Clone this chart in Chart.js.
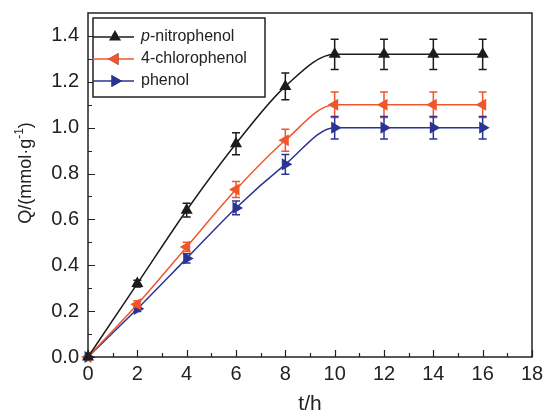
<!DOCTYPE html>
<html>
<head>
<meta charset="utf-8">
<script src="https://cdn.jsdelivr.net/npm/chart.js@4/dist/chart.umd.min.js"></script>
<style>
  html, body { margin: 0; padding: 0; background: #fff; }
  #wrap { width: 544px; height: 414px; }
</style>
</head>
<body>
<div id="wrap"><canvas id="c" width="544" height="414"></canvas></div>
<script>
const times = [0, 2, 4, 6, 8, 10, 12, 14, 16];
const nitro = [0, 0.32, 0.64, 0.93, 1.18, 1.32, 1.32, 1.32, 1.32];
const nitroErr = [0, 0.015, 0.03, 0.048, 0.058, 0.066, 0.066, 0.066, 0.066];
const chloro = [0, 0.23, 0.48, 0.73, 0.945, 1.10, 1.10, 1.10, 1.10];
const chloroErr = [0, 0.015, 0.02, 0.035, 0.048, 0.056, 0.056, 0.056, 0.056];
const phenol = [0, 0.21, 0.43, 0.65, 0.84, 1.00, 1.00, 1.00, 1.00];
const phenolErr = [0, 0.012, 0.02, 0.03, 0.043, 0.049, 0.049, 0.049, 0.049];
const seriesNames = ["p-nitrophenol", "4-chlorophenol", "phenol"];
const yTitle = "Q/(mmol·g-1)";
const xTitle = "t/h";

const FONT = "'Liberation Sans', Arial, sans-serif";
const colors = ['#1c1c1c', '#f0562a', '#2a3593'];
const rotations = [0, -90, 90];

function pts(vals, errs) {
  return times.map((t, i) => ({ x: t, y: vals[i], err: errs[i] }));
}

function mkSet(label, vals, errs, i) {
  return {
    label: label,
    data: pts(vals, errs),
    borderColor: colors[i],
    backgroundColor: colors[i],
    borderWidth: 1.5,
    pointStyle: 'triangle',
    pointRotation: rotations[i],
    pointRadius: 7,
    pointBorderWidth: 0,
    cubicInterpolationMode: 'monotone',
    clip: false
  };
}

// error bars, frame, inward ticks, legend, axis titles
const extras = {
  id: 'extras',
  beforeDatasetsDraw(chart) {
    const ctx = chart.ctx, xs = chart.scales.x, ys = chart.scales.y;
    chart.data.datasets.forEach((ds, i) => {
      ctx.save();
      ctx.strokeStyle = colors[i];
      ctx.lineWidth = 1.5;
      ds.data.forEach(p => {
        if (!p.err) return;
        const px = xs.getPixelForValue(p.x);
        const y1 = ys.getPixelForValue(p.y + p.err);
        const y2 = ys.getPixelForValue(p.y - p.err);
        ctx.beginPath();
        ctx.moveTo(px, y1); ctx.lineTo(px, y2);
        ctx.moveTo(px - 4, y1); ctx.lineTo(px + 4, y1);
        ctx.moveTo(px - 4, y2); ctx.lineTo(px + 4, y2);
        ctx.stroke();
      });
      ctx.restore();
    });
  },
  afterDraw(chart) {
    const ctx = chart.ctx, a = chart.chartArea;
    const xs = chart.scales.x, ys = chart.scales.y;
    ctx.save();
    ctx.strokeStyle = '#222';
    ctx.lineWidth = 1.5;
    ctx.strokeRect(a.left, a.top, a.right - a.left, a.bottom - a.top);

    ctx.lineWidth = 1.2;
    ctx.beginPath();
    xs.ticks.forEach(t => {
      const px = Math.round(xs.getPixelForValue(t.value)) + 0.5;
      const len = (Math.round(t.value) % 2 === 0) ? 7 : 4;
      ctx.moveTo(px, a.bottom); ctx.lineTo(px, a.bottom - len);
    });
    ys.ticks.forEach(t => {
      if (t.value > 1.45) return;
      const py = Math.round(ys.getPixelForValue(t.value)) + 0.5;
      const len = (Math.round(t.value * 10) % 2 === 0) ? 7 : 4;
      ctx.moveTo(a.left, py); ctx.lineTo(a.left + len, py);
    });
    ctx.stroke();

    // legend
    const lx = 93, ly = 18, lw = 172, lh = 79;
    ctx.fillStyle = '#fff';
    ctx.fillRect(lx, ly, lw, lh);
    ctx.strokeStyle = '#222';
    ctx.lineWidth = 1.5;
    ctx.strokeRect(lx, ly, lw, lh);
    const rowY = [37, 59, 81];
    chart.data.datasets.forEach((ds, i) => {
      const y = rowY[i];
      ctx.strokeStyle = colors[i];
      ctx.lineWidth = 1.5;
      ctx.beginPath();
      ctx.moveTo(lx, y); ctx.lineTo(lx + 41, y);
      ctx.stroke();
      Chart.helpers.drawPoint(ctx, {
        pointStyle: 'triangle', rotation: rotations[i], radius: 7, borderWidth: 0
      }, lx + 22, y);
      ctx.fillStyle = colors[i];
      ctx.fill();
      ctx.fillStyle = '#222';
      ctx.textBaseline = 'middle';
      ctx.textAlign = 'left';
      let tx = lx + 48;
      if (i === 0) {
        ctx.font = 'italic 16px ' + FONT;
        ctx.fillText('p', tx, y);
        tx += ctx.measureText('p').width;
        ctx.font = '16px ' + FONT;
        ctx.fillText(ds.label.slice(1), tx, y);
      } else {
        ctx.font = '16px ' + FONT;
        ctx.fillText(ds.label, tx, y);
      }
    });

    // x title
    ctx.fillStyle = '#222';
    ctx.font = '21px ' + FONT;
    ctx.textAlign = 'center';
    ctx.textBaseline = 'middle';
    ctx.fillText(xTitle, (a.left + a.right) / 2, 404);

    // y title with superscript
    ctx.translate(26, 173);
    ctx.rotate(-Math.PI / 2);
    const base = yTitle.slice(0, yTitle.indexOf('-1'));
    const sup = '-1', tail = ')';
    ctx.font = '18px ' + FONT;
    const wb = ctx.measureText(base).width, wt = ctx.measureText(tail).width;
    ctx.font = '12px ' + FONT;
    const ws = ctx.measureText(sup).width;
    let sx = -(wb + ws + wt) / 2;
    ctx.textAlign = 'left';
    ctx.font = '18px ' + FONT;
    ctx.fillText(base, sx, 0);
    sx += wb;
    ctx.font = '12px ' + FONT;
    ctx.fillText(sup, sx, -6);
    sx += ws;
    ctx.font = '18px ' + FONT;
    ctx.fillText(tail, sx, 0);
    ctx.restore();
  }
};

new Chart(document.getElementById('c'), {
  type: 'line',
  data: {
    datasets: [
      mkSet(seriesNames[0], nitro, nitroErr, 0),
      mkSet(seriesNames[1], chloro, chloroErr, 1),
      mkSet(seriesNames[2], phenol, phenolErr, 2)
    ]
  },
  options: {
    responsive: false,
    animation: false,
    layout: { padding: { top: 13, right: 12, left: 0, bottom: 0 } },
    plugins: { legend: { display: false }, tooltip: { enabled: false } },
    scales: {
      x: {
        type: 'linear', min: 0, max: 18,
        grid: { display: false }, border: { display: false },
        ticks: {
          stepSize: 1, autoSkip: false, maxRotation: 0, padding: -3,
          color: '#222', font: { family: FONT, size: 20 },
          callback: v => (Math.round(v) % 2 === 0 ? String(v) : '')
        },
        afterFit(s) { s.height = 57; }
      },
      y: {
        min: 0, max: 1.5,
        grid: { display: false }, border: { display: false },
        ticks: {
          stepSize: 0.1, autoSkip: false, padding: 1,
          color: '#222', font: { family: FONT, size: 20 },
          callback: v => {
            const k = Math.round(v * 10);
            return (k % 2 === 0 && k <= 14) ? (k / 10).toFixed(1) : '';
          }
        },
        afterFit(s) { s.width = 88; }
      }
    }
  },
  plugins: [extras]
});
</script>
</body>
</html>
